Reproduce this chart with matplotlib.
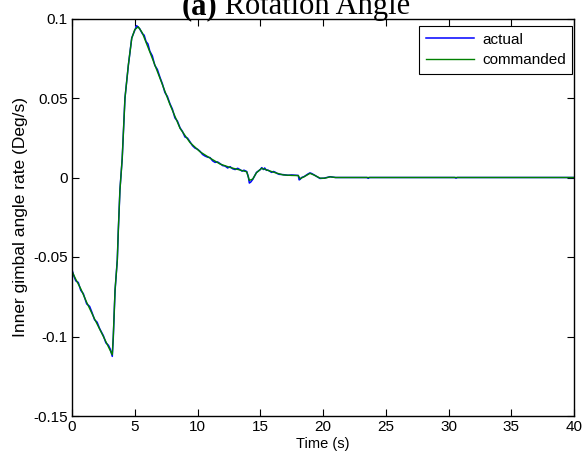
import matplotlib
matplotlib.use("Agg")
import matplotlib.pyplot as plt

# ---- data ----
cmd_t = [0, 0.3, 0.7, 1.17, 1.8, 2.5, 3.21, 3.29, 3.43, 3.61, 3.69, 3.82, 4.0, 4.22, 4.49,
         4.76, 5.0, 5.28, 5.6, 6.2, 7.01, 7.8, 8.61, 9.4, 10.2, 11.0, 11.79, 12.6, 13.39,
         13.92, 14.13, 14.4, 14.7, 15.12, 15.6, 16.2, 16.84, 17.5, 18.03, 18.17, 18.5,
         18.96, 19.3, 19.76, 20.1, 20.56, 21.0, 40.0]
cmd_v = [-0.059, -0.064, -0.070, -0.0785, -0.089, -0.100, -0.1115, -0.100, -0.0708, -0.052,
         -0.033, -0.008, 0.012, 0.0498, 0.0708, 0.0875, 0.093, 0.0948, 0.091, 0.079, 0.0624,
         0.046, 0.0309, 0.022, 0.0162, 0.0122, 0.0085, 0.0063, 0.0047, 0.0036, -0.0018,
         -0.001, 0.003, 0.0058, 0.0045, 0.003, 0.0016, 0.0013, 0.0012, -0.0008, 0.0005,
         0.0026, 0.0015, -0.0004, -0.0005, 0.0004, 0.0, 0.0]

act_t = [0, 0.15, 0.3, 0.5, 0.7, 0.9, 1.17, 1.4, 1.6, 1.8, 2.0, 2.2, 2.5, 2.7, 2.9, 3.05,
         3.21, 3.29, 3.43, 3.61, 3.69, 3.82, 4.0, 4.22, 4.49, 4.76, 5.0, 5.15, 5.28, 5.4,
         5.6, 5.75, 5.9, 6.05, 6.2, 6.4, 6.6, 6.8, 7.01, 7.2, 7.4, 7.6, 7.8, 8.0, 8.2, 8.4,
         8.61, 8.8, 9.0, 9.2, 9.4, 9.6, 9.8, 10.0, 10.2, 10.4, 10.6, 10.8, 11.0, 11.2,
         11.4, 11.6, 11.79, 12.0, 12.2, 12.4, 12.6, 12.8, 13.0, 13.2, 13.39, 13.55, 13.7,
         13.92, 14.05, 14.13, 14.25, 14.4, 14.7, 15.0, 15.12, 15.25, 15.35, 15.5, 15.6,
         15.75, 15.9, 16.05, 16.2, 16.35, 16.5, 16.84, 17.2, 17.5, 18.03, 18.1, 18.17,
         18.3, 18.5, 18.8, 18.96, 19.1, 19.3, 19.76, 20.1, 20.56, 21.0, 23.5, 23.6, 23.7,
         30.5, 30.6, 30.7, 40.0]
act_v = [-0.058, -0.062, -0.065, -0.066, -0.071, -0.073, -0.0795, -0.081, -0.085, -0.0895,
         -0.091, -0.095, -0.0995, -0.104, -0.1055, -0.108, -0.1125, -0.1005, -0.0712,
         -0.0515, -0.0335, -0.0075, 0.0118, 0.050, 0.0705, 0.0878, 0.0925, 0.0955, 0.0945,
         0.0935, 0.0905, 0.0895, 0.0855, 0.0840, 0.0795, 0.0765, 0.0705, 0.0680, 0.0630,
         0.0590, 0.0535, 0.0510, 0.0465, 0.0430, 0.0375, 0.0355, 0.0312, 0.0290, 0.0255,
         0.0248, 0.0225, 0.0200, 0.0185, 0.0178, 0.0165, 0.0145, 0.0135, 0.0128, 0.0125,
         0.0105, 0.0095, 0.0098, 0.0088, 0.0075, 0.0072, 0.0060, 0.0068, 0.0055, 0.0050,
         0.0058, 0.0049, 0.0040, 0.0046, 0.0038, 0.0005, -0.0035, -0.0028, -0.0012, 0.0032,
         0.0050, 0.0062, 0.0050, 0.0060, 0.0045, 0.0047, 0.0040, 0.0032, 0.0038, 0.0033,
         0.0025, 0.0020, 0.0018, 0.0014, 0.0016, 0.0013, -0.0015, -0.0012, 0.0000, 0.0006,
         0.0022, 0.0029, 0.0025, 0.0016, -0.0006, -0.0004, 0.0005, 0.0, 0.0, -0.0005, 0.0,
         0.0, -0.0004, 0.0, 0.0]

x_ticks = [0, 5, 10, 15, 20, 25, 30, 35, 40]
y_ticks = [-0.15, -0.1, -0.05, 0, 0.05, 0.1]
y_tick_labels = ["-0.15", "-0.1", "-0.05", "0", "0.05", "0.1"]
series_labels = ["actual", "commanded"]

# ---- figure ----
plt.rcParams['font.family'] = ['Liberation Sans', 'DejaVu Sans']
fig = plt.figure(figsize=(5.84, 4.57), dpi=100)
ax = fig.add_axes([72/584, 41/457, 502/584, 397.5/457])

ax.plot(act_t, act_v, color='#0000FF', lw=1.1, label=series_labels[0])
ax.plot(cmd_t, cmd_v, color='#008000', lw=1.0, label=series_labels[1])

ax.set_xlim(0, 40)
ax.set_ylim(-0.15, 0.1)
ax.set_xticks(x_ticks)
ax.set_xticklabels([str(v) for v in x_ticks])
ax.set_yticks(y_ticks)
ax.set_yticklabels(y_tick_labels)
ax.tick_params(direction='in', length=5, width=0.8, top=True, right=True,
               labelsize=11, colors='black', pad=3)
for s in ax.spines.values():
    s.set_linewidth(1.0)

ax.set_xlabel("Time (s)", fontsize=10.5, labelpad=2)
ax.set_ylabel("Inner gimbal angle rate (Deg/s)", fontsize=12.5, labelpad=4)

leg = ax.legend(loc='upper right', bbox_to_anchor=(0.996, 0.98), borderaxespad=0,
                fontsize=11, frameon=True, fancybox=False, edgecolor='black',
                framealpha=1, handlelength=3.2, handletextpad=0.5, borderpad=0.4,
                labelspacing=0.45)
leg.get_frame().set_linewidth(0.8)

# title: bold "(a)" + regular " Rotation Angle", centred at x~296 px
fig.canvas.draw()
r = fig.canvas.get_renderer()
t1 = fig.text(0, 1 - 14/457, "(a)", fontsize=22, fontweight='bold',
              family=['Liberation Serif', 'DejaVu Serif'], va='baseline', ha='left')
t2 = fig.text(0, 1 - 14/457, " Rotation Angle", fontsize=22,
              family=['Liberation Serif', 'DejaVu Serif'], va='baseline', ha='left')
w1 = t1.get_window_extent(r).width
w2 = t2.get_window_extent(r).width
x0 = 296 - (w1 + w2) / 2
t1.set_x(x0 / 584)
t2.set_x((x0 + w1) / 584)

fig.savefig("out.png", dpi=100)
